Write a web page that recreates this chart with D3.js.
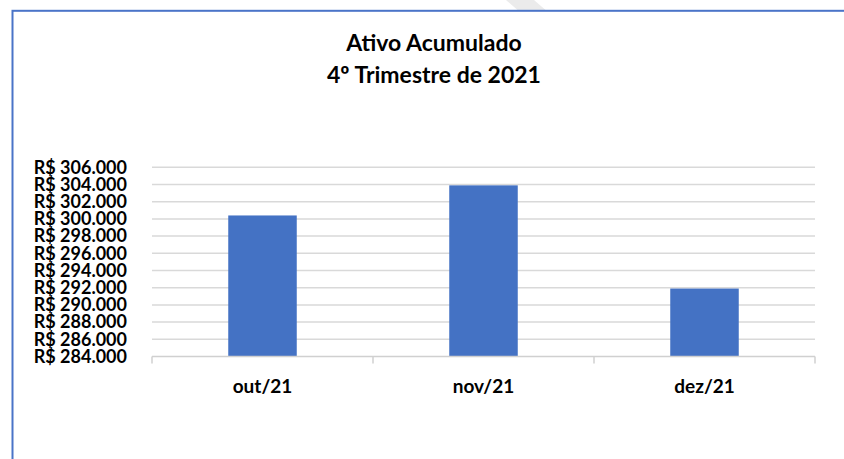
<!DOCTYPE html>
<html>
<head>
<meta charset="utf-8">
<script src="https://cdn.jsdelivr.net/npm/d3@7"></script>
<style>
  html, body { margin: 0; padding: 0; background: #fff; }
  svg { display: block; }
  text { font-family: Lato, "Open Sans", sans-serif; fill: #000; }
</style>
</head>
<body>
<svg id="chart" width="844" height="459"></svg>
<script>
// Ativo acumulado por mês (R$ mil)
const months = ["out/21", "nov/21", "dez/21"];
const ativo = [300400, 303900, 291900];
const yTicks = [284000, 286000, 288000, 290000, 292000, 294000, 296000, 298000, 300000, 302000, 304000, 306000];
const titleLines = ["Ativo Acumulado", "4º Trimestre de 2021"];

const svg = d3.select("#chart");

// background strip and frame
svg.append("polygon")
  .attr("points", "506,0 534,0 556,19 528,19")
  .attr("fill", "#ebebeb");
svg.append("rect")
  .attr("x", 12.5).attr("y", 10.8)
  .attr("width", 844).attr("height", 470)
  .attr("fill", "#fff")
  .attr("stroke", "#4a74c8")
  .attr("stroke-width", 2);

const plot = { left: 152, right: 815, top: 167.3, bottom: 356.5 };

const x = d3.scaleBand()
  .domain(months)
  .range([plot.left, plot.right])
  .paddingInner(0.69)
  .paddingOuter(0.345);

const y = d3.scaleLinear()
  .domain([284000, 306000])
  .range([plot.bottom, plot.top]);

const fmt = v => "R$ " + d3.format(",")(v).replace(/,/g, ".");

// gridlines
svg.append("g")
  .selectAll("line")
  .data(yTicks.slice(1))
  .join("line")
  .attr("x1", plot.left).attr("x2", plot.right)
  .attr("y1", d => y(d)).attr("y2", d => y(d))
  .attr("stroke", "#d9d9d9")
  .attr("stroke-width", 1.5);

// y axis labels
const yAxis = d3.axisLeft(y).tickValues(yTicks).tickFormat(fmt).tickSize(0).tickPadding(0);
const gy = svg.append("g").attr("transform", "translate(127,0)").call(yAxis);
gy.select(".domain").remove();
gy.selectAll("text")
  .attr("font-size", 18)
  .attr("font-weight", 700)
  .attr("font-family", "Lato, sans-serif")
  .attr("fill", "#000");

// bars
svg.append("g")
  .selectAll("rect")
  .data(months.map((m, i) => ({ m, v: ativo[i] })))
  .join("rect")
  .attr("x", d => x(d.m))
  .attr("width", x.bandwidth())
  .attr("y", d => y(d.v))
  .attr("height", d => y(284000) - y(d.v))
  .attr("fill", "#4472c4");

// category axis line with band boundary ticks
const bounds = [plot.left].concat(months.map(m => x(m) + x.bandwidth() / 2 + x.step() / 2));
svg.append("line")
  .attr("x1", plot.left).attr("x2", plot.right)
  .attr("y1", plot.bottom).attr("y2", plot.bottom)
  .attr("stroke", "#d0d0d0").attr("stroke-width", 1.5);
svg.append("g")
  .selectAll("line")
  .data(bounds)
  .join("line")
  .attr("x1", d => d).attr("x2", d => d)
  .attr("y1", plot.bottom).attr("y2", plot.bottom + 7)
  .attr("stroke", "#d0d0d0").attr("stroke-width", 1.5);

// category labels
svg.append("g")
  .selectAll("text")
  .data(months)
  .join("text")
  .attr("x", d => x(d) + x.bandwidth() / 2)
  .attr("y", 393)
  .attr("text-anchor", "middle")
  .attr("font-size", 19)
  .attr("font-weight", 700)
  .text(d => d);

// title
svg.append("g")
  .selectAll("text")
  .data(titleLines)
  .join("text")
  .attr("x", 434)
  .attr("y", (d, i) => 50.7 + i * 32.6)
  .attr("text-anchor", "middle")
  .attr("font-size", 23)
  .attr("font-weight", 700)
  .text(d => d);
</script>
</body>
</html>
